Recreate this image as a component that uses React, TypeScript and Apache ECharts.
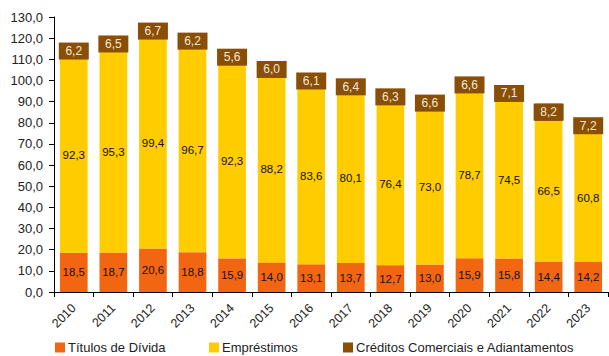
import React, { useEffect, useRef } from "react";
import * as echarts from "echarts";

const years = ["2010","2011","2012","2013","2014","2015","2016","2017","2018","2019","2020","2021","2022","2023"];
const titulos = [18.5,18.7,20.6,18.8,15.9,14.0,13.1,13.7,12.7,13.0,15.9,15.8,14.4,14.2];
const emprestimos = [92.3,95.3,99.4,96.7,92.3,88.2,83.6,80.1,76.4,73.0,78.7,74.5,66.5,60.8];
const creditos = [6.2,6.5,6.7,6.2,5.6,6.0,6.1,6.4,6.3,6.6,6.6,7.1,8.2,7.2];

const seriesNames = ["Títulos de Dívida", "Empréstimos", "Créditos Comerciais e Adiantamentos"];
const colors = ["#F36611", "#FFCC00", "#8A4F06"];

const FONT = "Liberation Sans";
const fmt = (v: number) => v.toFixed(1).replace(".", ",");

export default function App() {
  const ref = useRef<HTMLDivElement>(null);
  useEffect(() => {
    if (!ref.current) return;
    const chart = echarts.init(ref.current, undefined, { renderer: "svg" });
    const labelBase = {
      show: true,
      position: "inside",
      fontFamily: FONT,
      fontSize: 11.5,
      color: "#111",
      formatter: (p: any) => fmt(p.value),
    };
    const legendCommon = {
      top: 341,
      itemWidth: 10,
      itemHeight: 10,
      icon: "rect",
      itemGap: 4,
      padding: 0,
      textStyle: { fontFamily: FONT, fontSize: 13, color: "#222", padding: [0, 0, 0, -2] },
    };
    chart.setOption({
      animation: false,
      textStyle: { fontFamily: FONT },
      grid: { left: 54, right: 1, top: 17, bottom: 64 },
      legend: [
        { ...legendCommon, left: 55, data: [seriesNames[0]] },
        { ...legendCommon, left: 209, data: [seriesNames[1]] },
        { ...legendCommon, left: 343, data: [seriesNames[2]] },
      ],
      xAxis: {
        type: "category",
        data: years,
        axisLine: { lineStyle: { color: "#000", width: 1 } },
        axisTick: { show: true, length: 5, alignWithLabel: false, lineStyle: { color: "#000" } },
        axisLabel: { rotate: 45, fontFamily: FONT, fontSize: 12.5, color: "#222", margin: 14 },
      },
      yAxis: {
        type: "value",
        min: 0,
        max: 130,
        interval: 10,
        splitLine: { show: false },
        axisLine: { show: true, lineStyle: { color: "#000", width: 1 } },
        axisTick: { show: true, length: 5, lineStyle: { color: "#000" } },
        axisLabel: { fontFamily: FONT, fontSize: 13, color: "#222", margin: 11, formatter: (v: number) => fmt(v) },
      },
      series: [
        {
          name: seriesNames[0],
          type: "bar",
          stack: "t",
          barWidth: "70%",
          data: titulos,
          itemStyle: { color: colors[0] },
          label: labelBase,
        },
        {
          name: seriesNames[1],
          type: "bar",
          stack: "t",
          data: emprestimos,
          itemStyle: { color: colors[1] },
          label: labelBase,
        },
        {
          name: seriesNames[2],
          type: "bar",
          stack: "t",
          data: creditos,
          itemStyle: { color: colors[2] },
          label: {
            ...labelBase,
            fontSize: 12,
            color: "#F6E8D6",
            backgroundColor: colors[2],
            padding: [3, 5, 2, 5],
            width: 20,
            align: "center",
          },
        },
      ],
    });
    return () => chart.dispose();
  }, []);
  return <div ref={ref} style={{ width: 609, height: 356, position: "absolute", left: 0, top: 0 }} />;
}
